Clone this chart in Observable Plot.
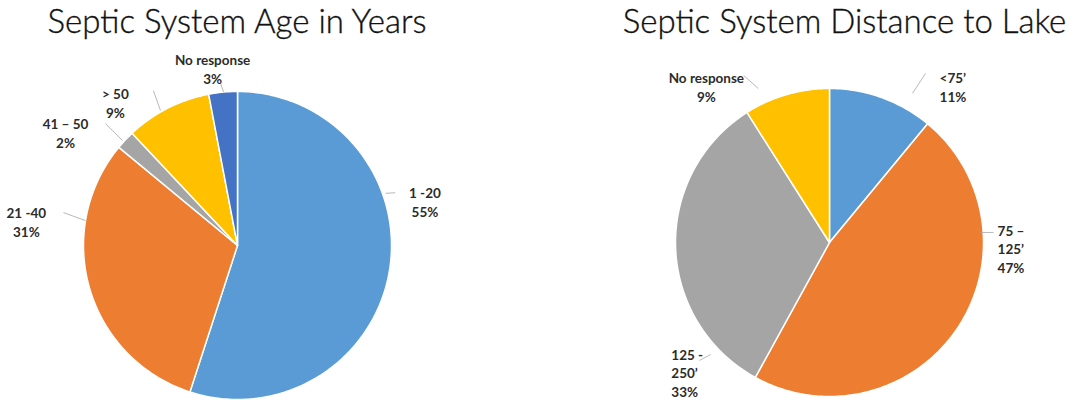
<!DOCTYPE html>
<html><head><meta charset="utf-8">
<script src="https://cdn.jsdelivr.net/npm/d3@7"></script>
<script src="https://cdn.jsdelivr.net/npm/@observablehq/plot@0.6"></script>
<style>
body{margin:0;background:#fff;}
#row{display:flex;width:1074px;height:400px;overflow:hidden;}
.panel{width:537px;height:400px;}
.title{height:46px;font-family:Lato,"Open Sans",sans-serif;font-weight:300;font-size:33px;line-height:40px;color:#111;white-space:nowrap;text-align:center;position:relative;-webkit-text-stroke:0.35px #111;}
svg{display:block;}
</style></head><body><div id="row"></div>
<script>
// ---- data ----
const ageTitle = "Septic System Age in Years";
const ageCategories = ["1 -20", "21 -40", "41 – 50", "> 50", "No response"];
const agePercents = [55, 31, 2, 9, 3];

const distTitle = "Septic System Distance to Lake";
const distCategories = ["<75’", "75 – 125’", "125 - 250’", "No response"];
const distPercents = [11, 47, 33, 9];

const palette = ["#5B9BD5", "#ED7D31", "#A5A5A5", "#FFC000", "#4472C4"];

// ---- label layout (polar: degrees clockwise from top, distance in pie radii) ----
const ageLayout = [
  {leader: [70.6, 1.02, 71.5, 1.08], text: [76.8, 1.25], anchor: "middle", wrap: false},
  {leader: [279.3, 1.0, 280.7, 1.15], text: [276.5, 1.38], anchor: "middle", wrap: false},
  {leader: [312.4, 1.01, 312.7, 1.167], text: [303.3, 1.336], anchor: "middle", wrap: false},
  {leader: [330.3, 1.01, 331.5, 1.145], text: [319.5, 1.221], anchor: "middle", wrap: false},
  {leader: [354.8, 1.0, 354.0, 1.064], text: [352.0, 1.161], anchor: "middle", wrap: false}
];
const distLayout = [
  {leader: [29.1, 1.108, 29.6, 1.262], text: [35.2, 1.24], anchor: "start", wrap: false},
  {leader: [86.2, 0.983, 86.5, 1.067], text: [92.0, 1.092], anchor: "start", wrap: true},
  {leader: [226.7, 1.061, 227.8, 1.14], text: [230.6, 1.329], anchor: "start", wrap: true},
  {leader: [335.2, 1.101, 332.8, 1.22], text: [321.7, 1.29], anchor: "middle", wrap: false}
];

const rad = d => d * Math.PI / 180;
const px = (deg, rho) => rho * Math.sin(rad(deg));
const py = (deg, rho) => -rho * Math.cos(rad(deg));

function pie({title, categories, values, layout, width, height, cx, cy, r, titleShift}) {
  const total = d3.sum(values);
  let acc = 0;
  const slices = categories.map((c, i) => {
    const a0 = acc / total * 2 * Math.PI; acc += values[i];
    const a1 = acc / total * 2 * Math.PI;
    return {c, v: values[i], a0, a1};
  });
  const pts = slices.flatMap(s => {
    const n = Math.max(2, Math.ceil((s.a1 - s.a0) / (Math.PI / 180)));
    const arr = [{c: s.c, x: 0, y: 0}];
    for (let k = 0; k <= n; k++) {
      const a = s.a0 + (s.a1 - s.a0) * k / n;
      arr.push({c: s.c, x: Math.sin(a), y: -Math.cos(a)});
    }
    arr.push({c: s.c, x: 0, y: 0});
    return arr;
  });
  const labels = slices.map((s, i) => {
    const L = layout[i];
    const name = L.wrap ? s.c.replace(/ (?=\d)/, "\n") : s.c;
    return {
      text: name + "\n" + s.v + "%",
      x1: px(L.leader[0], L.leader[1]), y1: py(L.leader[0], L.leader[1]),
      x2: px(L.leader[2], L.leader[3]), y2: py(L.leader[2], L.leader[3]),
      tx: px(L.text[0], L.text[1]), ty: py(L.text[0], L.text[1]),
      anchor: L.anchor
    };
  });
  const textOpts = {fontFamily: "Lato, 'Open Sans', sans-serif", fontWeight: "bold", fontSize: 13.5, lineHeight: 1.38, fill: "#2b2b2b"};
  const plot = Plot.plot({
    width, height,
    margin: 0,
    x: {domain: [-cx / r, (width - cx) / r], range: [0, width], axis: null},
    y: {domain: [-cy / r, (height - cy) / r], range: [0, height], axis: null},
    color: {domain: categories, range: palette},
    marks: [
      Plot.line(pts, {x: "x", y: "y", z: "c", fill: "c", stroke: "white", strokeWidth: 1.5, strokeLinejoin: "round", curve: "linear"}),
      Plot.link(labels, {x1: "x1", y1: "y1", x2: "x2", y2: "y2", stroke: "#a6a6a6", strokeWidth: 0.8}),
      Plot.text(labels.filter(d => d.anchor === "middle"), {x: "tx", y: "ty", text: "text", textAnchor: "middle", lineAnchor: "middle", ...textOpts}),
      Plot.text(labels.filter(d => d.anchor === "start"), {x: "tx", y: "ty", text: "text", textAnchor: "start", lineAnchor: "middle", ...textOpts})
    ]
  });
  const panel = document.createElement("div");
  panel.className = "panel";
  const t = document.createElement("div");
  t.className = "title";
  t.style.left = titleShift + "px";
  t.textContent = title;
  panel.appendChild(t);
  panel.appendChild(plot);
  return panel;
}

const row = document.getElementById("row");
row.appendChild(pie({title: ageTitle, categories: ageCategories, values: agePercents, layout: ageLayout,
  width: 537, height: 354, cx: 237, cy: 199, r: 154, titleShift: -31.5}));
row.appendChild(pie({title: distTitle, categories: distCategories, values: distPercents, layout: distLayout,
  width: 537, height: 354, cx: 292, cy: 196, r: 154, titleShift: 39}));
</script></body></html>
